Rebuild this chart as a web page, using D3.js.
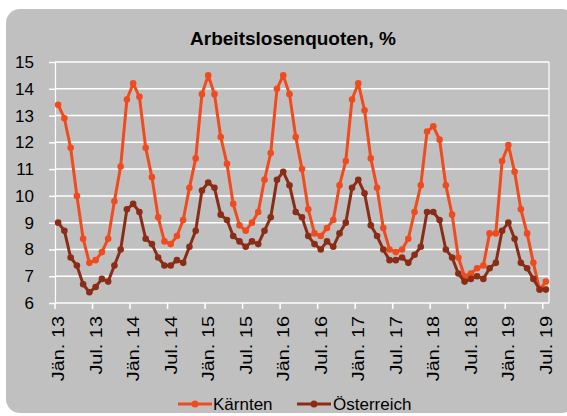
<!DOCTYPE html>
<html>
<head>
<meta charset="utf-8">
<script src="https://cdn.jsdelivr.net/npm/d3@7"></script>
<style>
  html, body { margin: 0; padding: 0; background: #fff; }
  svg { display: block; font-family: "Liberation Sans", Arial, sans-serif; }
</style>
</head>
<body>
<svg id="chart" width="567" height="416"></svg>
<script>
// Monthly unemployment rates, Jän.13 .. Jul.19 (79 months)
const kaernten = [
  13.4, 12.9, 11.8, 10.0, 8.4, 7.5, 7.6, 7.9, 8.4, 9.8, 11.1, 13.6,
  14.2, 13.7, 11.8, 10.7, 9.2, 8.3, 8.2, 8.5, 9.1, 10.3, 11.4, 13.8,
  14.5, 13.8, 12.2, 11.2, 9.7, 8.9, 8.7, 9.0, 9.4, 10.6, 11.6, 14.0,
  14.5, 13.8, 12.2, 11.0, 9.5, 8.6, 8.5, 8.8, 9.1, 10.4, 11.3, 13.6,
  14.2, 13.2, 11.4, 10.3, 8.8, 8.0, 7.9, 8.0, 8.4, 9.4, 10.4, 12.4,
  12.6, 12.1, 10.4, 9.3, 7.7, 7.0, 7.1, 7.3, 7.4, 8.6, 8.6, 11.3,
  11.9, 10.9, 9.5, 8.6, 7.5, 6.5, 6.8
];
const oesterreich = [
  9.0, 8.7, 7.7, 7.4, 6.7, 6.4, 6.6, 6.9, 6.8, 7.4, 8.0, 9.5,
  9.7, 9.4, 8.4, 8.2, 7.7, 7.4, 7.4, 7.6, 7.5, 8.1, 8.7, 10.2,
  10.5, 10.3, 9.3, 9.1, 8.5, 8.3, 8.1, 8.3, 8.2, 8.7, 9.2, 10.6,
  10.9, 10.4, 9.4, 9.2, 8.5, 8.2, 8.0, 8.3, 8.1, 8.6, 9.0, 10.3,
  10.6, 10.1, 8.9, 8.5, 8.0, 7.6, 7.6, 7.7, 7.5, 7.8, 8.1, 9.4,
  9.4, 9.1, 8.0, 7.7, 7.1, 6.8, 6.9, 7.0, 6.9, 7.3, 7.5, 8.7,
  9.0, 8.4, 7.5, 7.3, 6.9, 6.5, 6.5
];
const tickLabels = [
  "Jän. 13", "Jul. 13", "Jän. 14", "Jul. 14", "Jän. 15", "Jul. 15", "Jän. 16",
  "Jul. 16", "Jän. 17", "Jul. 17", "Jän. 18", "Jul. 18", "Jän. 19", "Jul. 19"
];
const yTicks = [6, 7, 8, 9, 10, 11, 12, 13, 14, 15];
const series = [
  { name: "Kärnten", values: kaernten, color: "#ef4b1e" },
  { name: "Österreich", values: oesterreich, color: "#8b2d16" }
];

const svg = d3.select("#chart");
const bg = "#c0c0c0";
const margin = { top: 62, right: 18, bottom: 113, left: 55 };
const W = 567, H = 416;
const innerW = W - margin.left - margin.right;
const innerH = H - margin.top - margin.bottom;

// Chart frame
svg.append("rect")
  .attr("x", 6).attr("y", 9).attr("width", 570).attr("height", 404)
  .attr("rx", 14).attr("fill", bg);

svg.append("text")
  .attr("x", 293).attr("y", 45)
  .attr("text-anchor", "middle")
  .attr("font-size", 19).attr("font-weight", "bold")
  .attr("fill", "#000")
  .text("Arbeitslosenquoten, %");

const g = svg.append("g").attr("transform", `translate(${margin.left},${margin.top})`);

const x = d3.scaleBand().domain(d3.range(kaernten.length)).range([0, innerW]).paddingInner(0);
const y = d3.scaleLinear().domain([6, 15]).range([innerH, 0]);
const cx = (i) => x(i) + x.bandwidth() / 2;

// Gridlines + y axis
const yAxis = d3.axisLeft(y).tickValues(yTicks).tickSize(6).tickPadding(15).tickFormat(d3.format("d"));
const ya = g.append("g").call(yAxis);
ya.select(".domain").attr("stroke", "#fff").attr("stroke-width", 1.2);
ya.selectAll(".tick line").attr("stroke", "#fff").attr("stroke-width", 1.5);
ya.selectAll(".tick text").attr("font-size", 17).attr("fill", "#000").attr("font-family", "Liberation Sans, Arial, sans-serif");

g.append("g").selectAll("line").data(yTicks.filter((d) => d > 6)).enter().append("line")
  .attr("x1", 0).attr("x2", innerW)
  .attr("y1", (d) => y(d)).attr("y2", (d) => y(d))
  .attr("stroke", "#fff").attr("stroke-width", 1.5);

// right border of plot area
g.append("line")
  .attr("x1", innerW).attr("x2", innerW).attr("y1", 0).attr("y2", innerH)
  .attr("stroke", "#fff").attr("stroke-width", 1.2);

// x axis: ticks at category boundaries, labels centered in category
const tickIdx = tickLabels.map((d, k) => k * 6);
const xa = g.append("g").attr("transform", `translate(0,${innerH})`);
xa.append("line").attr("x1", 0).attr("x2", innerW).attr("stroke", "#fff").attr("stroke-width", 1.5);
xa.selectAll("line.tick").data(tickIdx).enter().append("line")
  .attr("class", "tick")
  .attr("x1", (d) => x(d)).attr("x2", (d) => x(d))
  .attr("y1", 0).attr("y2", 6)
  .attr("stroke", "#fff").attr("stroke-width", 1.5);
xa.selectAll("text").data(tickIdx).enter().append("text")
  .attr("transform", (d) => `translate(${cx(d)},13) rotate(-90) scale(1.17,1)`)
  .attr("text-anchor", "end")
  .attr("dy", "0.35em")
  .attr("font-size", 17)
  .attr("fill", "#000")
  .text((d, k) => tickLabels[k]);

// Lines and markers
const line = d3.line().x((d, i) => cx(i)).y((d) => y(d));
series.forEach((s) => {
  const sg = g.append("g");
  sg.append("path")
    .attr("d", line(s.values))
    .attr("fill", "none")
    .attr("stroke", s.color)
    .attr("stroke-width", 3)
    .attr("stroke-linejoin", "round");
  sg.selectAll("circle").data(s.values).enter().append("circle")
    .attr("cx", (d, i) => cx(i)).attr("cy", (d) => y(d))
    .attr("r", 3.3).attr("fill", s.color);
});

// Legend
const legendPos = [{ x: 178, tx: 213 }, { x: 297, tx: 333 }];
const lg = svg.append("g").attr("transform", "translate(0,404)");
series.forEach((s, k) => {
  const p = legendPos[k];
  lg.append("line").attr("x1", p.x).attr("x2", p.x + 34).attr("y1", 0).attr("y2", 0)
    .attr("stroke", s.color).attr("stroke-width", 3);
  lg.append("circle").attr("cx", p.x + 17).attr("cy", 0).attr("r", 3.5).attr("fill", s.color);
  lg.append("text").attr("x", p.tx).attr("y", 0).attr("dy", "0.35em")
    .attr("font-size", 17).attr("fill", "#000").text(s.name);
});
</script>
</body>
</html>
